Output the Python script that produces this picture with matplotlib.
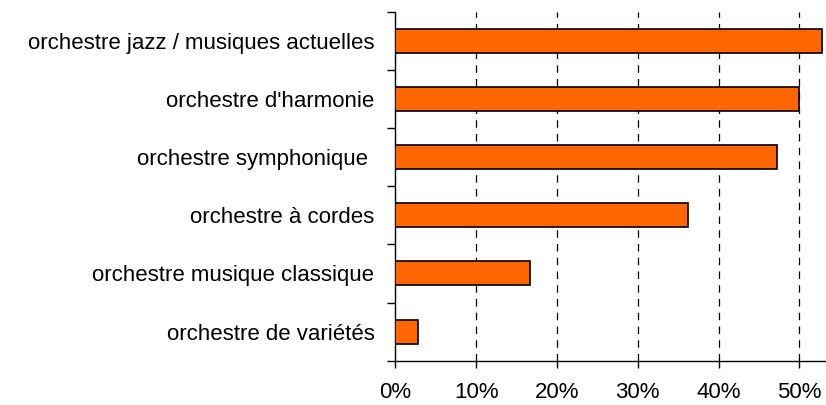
import matplotlib
matplotlib.use("Agg")
import matplotlib.pyplot as plt
from matplotlib.ticker import FuncFormatter, FixedLocator

plt.rcParams['font.family'] = ['Liberation Sans', 'DejaVu Sans']

categories = [
    "orchestre jazz / musiques actuelles",
    "orchestre d'harmonie",
    "orchestre symphonique ",
    "orchestre à cordes",
    "orchestre musique classique",
    "orchestre de variétés",
]
values = [0.528, 0.500, 0.472, 0.362, 0.167, 0.028]
xticks = [0.0, 0.1, 0.2, 0.3, 0.4, 0.5]

fig = plt.figure(figsize=(8.26, 4.05), dpi=100)
ax = fig.add_axes([0.4786, 0.1094, 0.5214, 0.862])

n = len(categories)
ypos = list(range(n))[::-1]
ax.barh(ypos, values, height=0.41, color="#FF6600", edgecolor="black", linewidth=1.2, zorder=3)

ax.set_xlim(0, 0.533)
ax.set_ylim(-0.5, n - 0.5)
ax.set_xticks(xticks)
ax.xaxis.set_major_formatter(FuncFormatter(lambda v, p: "{:.0f}%".format(v * 100)))
for x in xticks[1:]:
    ax.axvline(x, color="black", lw=0.9, ls=(0, (6, 5)), zorder=1)

# category labels centred, ticks at boundaries
ax.set_yticks(ypos)
ax.set_yticklabels(categories)
ax.yaxis.set_minor_locator(FixedLocator([i - 0.5 for i in range(n + 1)]))
ax.tick_params(axis="y", which="major", length=0, pad=15, labelsize=16)
ax.tick_params(axis="y", which="minor", length=5.5, width=1, color="black")
ax.tick_params(axis="x", length=5, width=1, pad=10, labelsize=16)

for s in ["top", "right"]:
    ax.spines[s].set_visible(False)
ax.spines["left"].set_linewidth(1)
ax.spines["bottom"].set_linewidth(1)

fig.savefig("out.png", dpi=100)
